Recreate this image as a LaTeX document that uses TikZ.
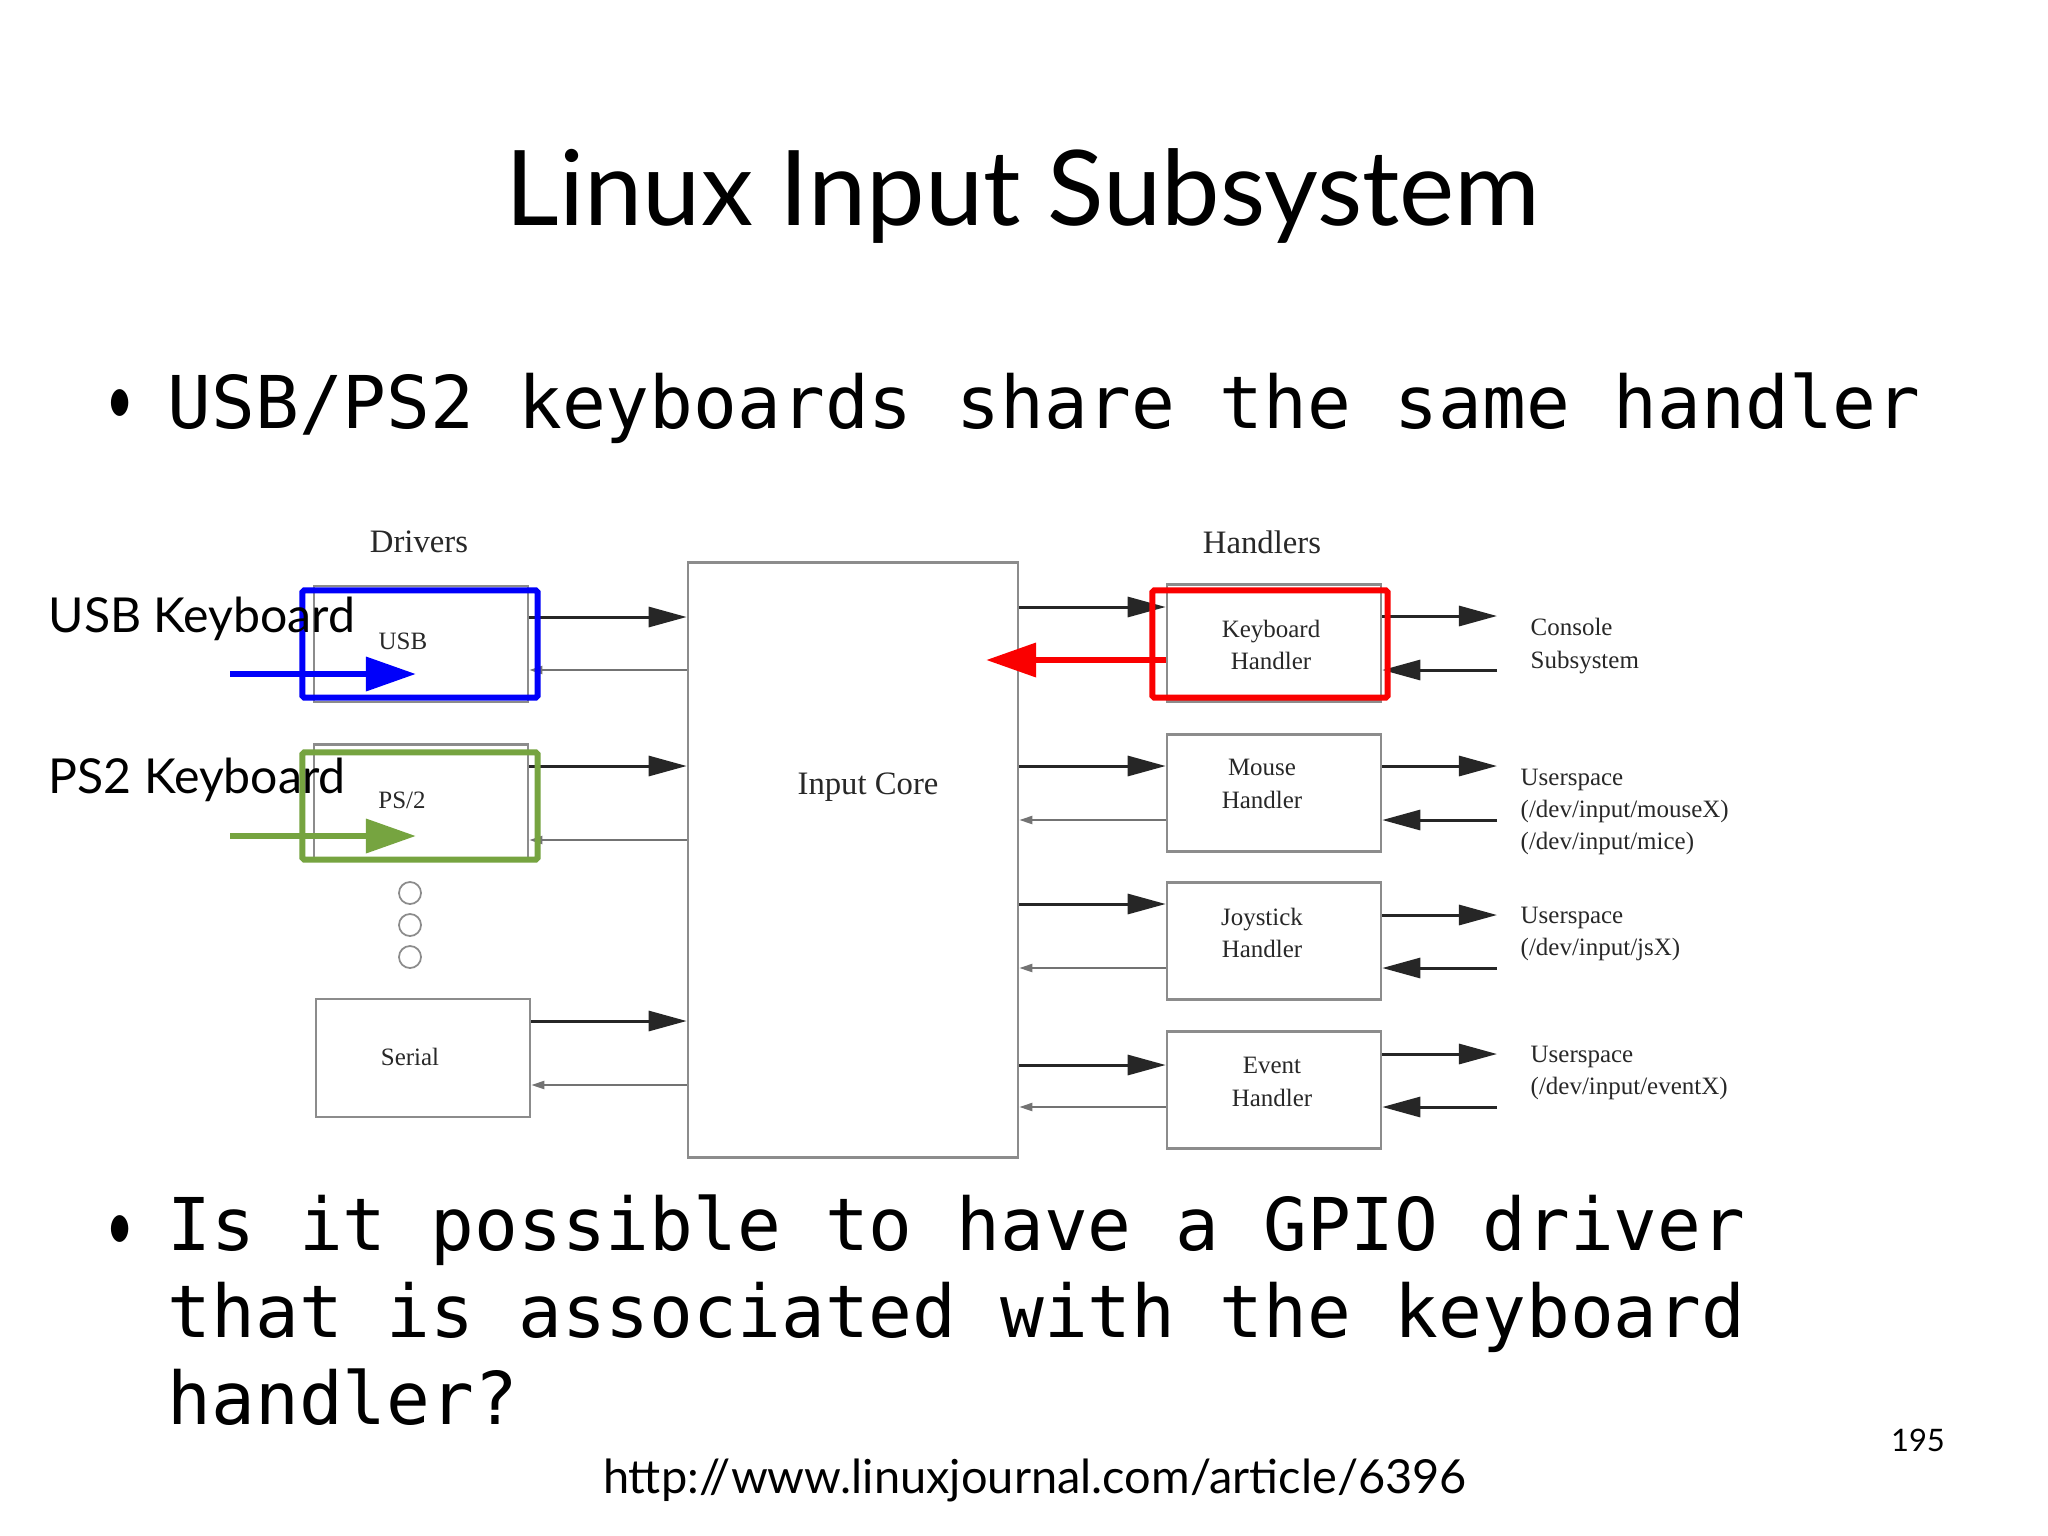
\documentclass[tikz,border=0pt]{standalone}
\usepackage{fontspec}
\setmainfont{Lato}
\newfontfamily\codefont{DejaVu Sans Mono}
\newfontfamily\timesfont{Liberation Serif}
\usetikzlibrary{arrows.meta}
\definecolor{boxgray}{RGB}{140,140,140}
\definecolor{inkgray}{RGB}{40,40,40}
\definecolor{markblue}{RGB}{0,0,250}
\definecolor{markgreen}{RGB}{118,164,64}
\definecolor{markred}{RGB}{250,0,0}

\begin{document}
\begin{tikzpicture}[x=0.01cm, y=-0.01cm,
    block/.style={draw=boxgray, line width=0.7pt, minimum width=2.14cm, inner sep=0pt},
    block text/.style={align=center, inner sep=0pt, font=\timesfont\fontsize{7.1}{9.2}\selectfont, text=inkgray},
    head label/.style={font=\timesfont\fontsize{9.3}{11}\selectfont, text=inkgray},
    side label/.style={anchor=west, align=left, inner sep=0pt, font=\timesfont\fontsize{7.1}{9.2}\selectfont, text=inkgray},
    fwd arrow/.style={line width=0.85pt, black!85, -{Triangle[length=0.38cm, width=0.2cm]}},
    ret arrow/.style={line width=0.6pt, black!55, -{Triangle[length=0.13cm, width=0.08cm]}},
    mark box/.style={draw=#1, line width=1.7pt, rounded corners=0.5pt, minimum width=2.35cm, minimum height=1.07cm, inner sep=0pt},
    mark arrow/.style={draw=#1, line width=1.9pt, -{Triangle[length=0.5cm, width=0.33cm]}},
    slide text/.style={font=\codefont\fontsize{20.7}{24.7}\selectfont, anchor=base west, inner sep=0pt},
    bullet/.style={font=\fontsize{20.5}{24}\selectfont, anchor=base, inner sep=0pt, xscale=0.65},
    tag/.style={font=\fontsize{13.7}{16}\selectfont, anchor=base west, inner sep=0pt}
]

\fill[white] (0,0) rectangle (2048,1536);
\useasboundingbox (0,0) rectangle (2048,1536);

% 1. Title and bullet points
\node[font=\fontsize{29.7}{34}\selectfont, anchor=base] (title) at (1023,225) {Linux Input Subsystem};
\node[bullet] (dotA) at (120,424) {•};
\node[slide text] (pointA) at (167,428) {USB/PS2 keyboards share the same handler};
\node[bullet] (dotB) at (120,1250) {•};
\node[slide text, align=left] (pointB) at (167,1424) {Is it possible to have a GPIO driver\\that is associated with the keyboard\\handler?};

% 2. Column headings
\node[head label] (drvhead) at (419,542) {Drivers};
\node[head label] (hdlhead) at (1262,542) {Handlers};

% 3. Driver blocks (plus the dots for "more")
\node[block, minimum height=1.16cm] (usb) at (421,644) {};
\node[block, minimum height=1.15cm] (ps2) at (421,802) {};
\node[block, minimum height=1.18cm] (serial) at (423,1058) {};
\node[block text] (usbtext) at (403,641) {USB};
\node[block text] (ps2text) at (402,800) {PS/2};
\node[block text] (serialtext) at (410,1057) {Serial};
\foreach \i/\y in {1/893, 2/925, 3/957} {
    \node[draw=boxgray, circle, minimum size=0.22cm, inner sep=0pt, line width=0.5pt] (more\i) at (410,\y) {};
}

% 4. Input core
\node[draw=boxgray, line width=0.7pt, minimum width=3.3cm, minimum height=5.95cm] (core) at (853,860) {};
\node[head label] (coretext) at (868,787) {Input Core};

% 5. Handler blocks
% name / box y / text x / text y / text
\foreach \name/\y/\tx/\ty/\txt in {kbd/643/1271/645/{Keyboard\\Handler}, mouse/793/1262/784/{Mouse\\Handler},
        joy/941/1262/933/{Joystick\\Handler}, event/1090/1272/1082/{Event\\Handler}} {
    \node[block, minimum height=1.17cm] (\name) at (1274,\y) {};
    \node[block text] (\name text) at (\tx,\ty) {\txt};
}

% 6. Userspace side labels
\node[side label] (console) at (1530,646) {Console\\Subsystem};
\node[side label] (mouseus) at (1520,812) {Userspace\\(/dev/input/mouseX)\\(/dev/input/mice)};
\node[side label] (joyus) at (1520,934) {Userspace\\(/dev/input/jsX)};
\node[side label] (eventus) at (1530,1073) {Userspace\\(/dev/input/eventX)};
\coordinate (outer) at (1497,0);

% 7. Links drivers <-> core
\foreach \d/\yo/\yr in {usb/617/670, ps2/766/840, serial/1021/1085} {
    \draw[fwd arrow] (\d.east |- 0,\yo) -- (core.west |- 0,\yo);
    \draw[ret arrow] (core.west |- 0,\yr) -- (\d.east |- 0,\yr);
}

% 8. Links core <-> handlers <-> userspace
\draw[fwd arrow] (core.east |- 0,607) -- (kbd.west |- 0,607);
\foreach \h/\yo/\yr in {mouse/766/820, joy/904/968, event/1065/1107} {
    \draw[fwd arrow] (core.east |- 0,\yo) -- (\h.west |- 0,\yo);
    \draw[ret arrow] (\h.west |- 0,\yr) -- (core.east |- 0,\yr);
}
\foreach \h/\yo/\yi in {kbd/616/670, mouse/766/820, joy/915/968, event/1054/1107} {
    \draw[fwd arrow] (\h.east |- 0,\yo) -- (outer |- 0,\yo);
    \draw[fwd arrow] (outer |- 0,\yi) -- (\h.east |- 0,\yi);
}

% 9. Coloured highlights
\node[mark box=markblue] (usbmark) at (420,644) {};
\node[mark box=markgreen] (ps2mark) at (420,806) {};
\node[mark box=markred] (kbdmark) at (1270,644) {};
\coordinate (usbfrom) at (230,674);
\coordinate (usbto) at (416,674);
\coordinate (ps2from) at (230,836);
\coordinate (ps2to) at (416,836);
\coordinate (kbdto) at (986,660);
\draw[mark arrow=markblue] (usbfrom) -- (usbto);
\draw[mark arrow=markgreen] (ps2from) -- (ps2to);
\draw[mark arrow=markred] (kbd.west |- 0,660) -- (kbdto);
\node[tag] (usbkbd) at (48,632) {USB Keyboard};
\node[tag] (ps2kbd) at (48,793) {PS2 Keyboard};

% 10. Source and page number
\node[font=\fontsize{13.35}{16}\selectfont, anchor=base] (url) at (1035,1493) {http://www.linuxjournal.com/article/6396};
\node[font=\fontsize{8.8}{10}\selectfont, anchor=base] (pagenum) at (1918,1451) {195};

\end{tikzpicture}
\end{document}
